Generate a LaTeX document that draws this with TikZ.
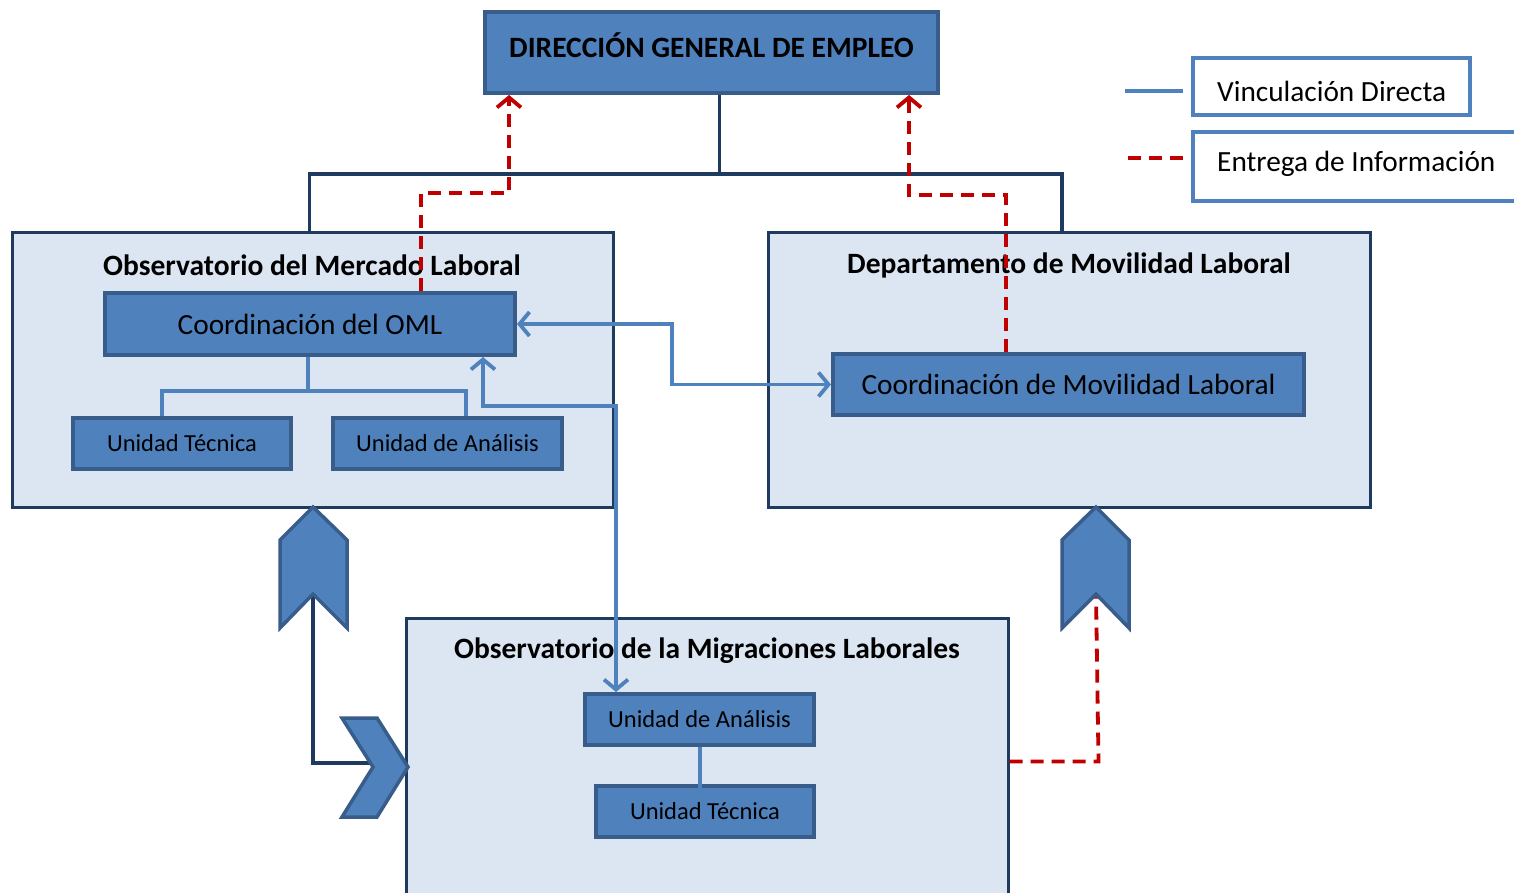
\documentclass[tikz,border=0pt]{standalone}
\usepackage{fontspec}
\setmainfont{Carlito}
\usetikzlibrary{arrows.meta}
\definecolor{medblue}{HTML}{4F81BD}
\definecolor{bordblue}{HTML}{385D8A}
\definecolor{lightfill}{HTML}{DCE6F2}
\definecolor{navy}{HTML}{1F3A5F}
\definecolor{darkred}{HTML}{C00000}
\begin{document}
\begin{tikzpicture}[x=1pt,y=-1pt,
  >={Straight Barb[length=10pt,width=24pt]},
  bigbox/.style={draw=navy,fill=lightfill,line width=3pt,inner sep=0pt},
  unitbox/.style={draw=bordblue,fill=medblue,line width=4pt,inner sep=0pt},
  legbox/.style={draw=medblue,fill=white,line width=3.5pt,inner sep=0pt},
  titletext/.style={font=\fontsize{29.5}{32}\selectfont\bfseries,inner sep=0pt},
  maintext/.style={font=\fontsize{29.3}{32}\selectfont},
  smalltext/.style={font=\fontsize{24.5}{27}\selectfont},
  navyline/.style={draw=navy,line width=3.5pt},
  blueline/.style={draw=medblue,line width=3.8pt},
  redline/.style={draw=darkred,line width=3.8pt,dash pattern=on 13pt off 8pt},
  chev/.style={draw=bordblue,fill=medblue,line width=3.5pt,line join=miter}
]
\useasboundingbox (0,0) rectangle (1514,892);
\fill[white] (0,0) rectangle (1514,892);

% main boxes
\node[bigbox,minimum width=601pt,minimum height=275pt] (oml) at (312.5,369.5) {};
\node[bigbox,minimum width=602pt,minimum height=275pt] (dml) at (1069,369.5) {};
\node[bigbox,minimum width=602pt,minimum height=292pt] (omig) at (707,764) {};
\node[titletext] (omlt) at (312,265) {Observatorio del Mercado Laboral};
\node[titletext] (dmlt) at (1069,265) {Departamento de Movilidad Laboral};
\node[titletext] (omigt) at (707,651) {Observatorio de la Migraciones Laborales};

% top box
\node[unitbox,minimum width=453pt,minimum height=81pt] (dge) at (711.5,52.5) {};
\node[titletext] (dget) at (711.5,45) {DIRECCIÓN GENERAL DE EMPLEO};

% inner boxes
\node[unitbox,maintext,minimum width=410pt,minimum height=62pt] (coml) at (310,324) {\raisebox{-2pt}{Coordinación del OML}};
\node[unitbox,smalltext,minimum width=218pt,minimum height=51pt] (ut1) at (182,443.5) {\raisebox{-2pt}{Unidad Técnica}};
\node[unitbox,smalltext,minimum width=229pt,minimum height=51pt] (ua1) at (447.5,443.5) {\raisebox{-2pt}{Unidad de Análisis}};
\node[unitbox,maintext,minimum width=471pt,minimum height=61pt] (cml) at (1068.5,384.5) {\raisebox{-2pt}{Coordinación de Movilidad Laboral}};
\node[unitbox,smalltext,minimum width=229pt,minimum height=51pt] (ua2) at (699.5,719.5) {\raisebox{-2pt}{Unidad de Análisis}};
\node[unitbox,smalltext,minimum width=218pt,minimum height=51pt] (ut2) at (705,811.5) {\raisebox{-2pt}{Unidad Técnica}};

% hierarchy lines
\draw[navyline] ([xshift=8pt]dge.south) -- ++(0,79) coordinate (hub);
\draw[navyline] ([xshift=-3pt]oml.north) |- (hub) -| ([xshift=-7pt]dml.north);
\draw[blueline] ([xshift=-2pt]coml.south) -- ++(0,34) coordinate (tb);
\draw[blueline] (tb) -| ([xshift=91pt]ut1.north west);
\draw[blueline] (tb) -| ([xshift=135pt]ua1.north west);
\draw[blueline] ([xshift=117pt]ua2.south west) -- ++(0,41);

% blue links
\draw[blueline,<->] (coml.east) -- ++(155,0) |- (cml.west);
\draw[blueline,<->] ([xshift=380pt]coml.south west) -- ++(0,49) -| ([xshift=33pt]ua2.north west);

% red dashed
\draw[redline,->] ([xshift=318pt]coml.north west) -- ++(0,-98) -| ([xshift=26pt]dge.south west);
\draw[redline,->] ([xshift=175pt]cml.north west) -- ++(0,-157) -| ([xshift=426pt]dge.south west);

% chevrons
\coordinate (chevLnotch) at (313,594);
\coordinate (chevMnotch) at (376,763);
\coordinate (chevRnotch) at (1096,594);
\draw[navyline] (chevLnotch) |- (chevMnotch);
\draw[redline] ([yshift=-145pt]omig.north east) -- ++(89,0) -- (chevRnotch);
\draw[chev] (313,507) -- (347,540) -- (347,628) -- (chevLnotch) -- (280,628) -- (280,540) -- cycle;
\draw[chev] (1096,507) -- (1129,540) -- (1129,628) -- (chevRnotch) -- (1062,628) -- (1062,540) -- cycle;
\draw[chev] (342,718) -- (377,718) -- (408,767) -- (377,817) -- (342,817) -- (373,767) -- cycle;

% legend
\node[legbox,minimum width=277pt,minimum height=57pt] (leg1) at (1331.5,86.5) {};
\node[legbox,minimum width=347pt,minimum height=69pt] (leg2) at (1366.5,166.5) {};
\node[maintext,anchor=west,inner sep=0pt] (leg1t) at (1217,91) {Vinculación Directa};
\node[maintext,anchor=west,inner sep=0pt] (leg2t) at (1217,164) {Entrega de Información};
\draw[blueline] ([xshift=-8pt,yshift=-4.5pt]leg1.west) -- ++(-58,0);
\draw[redline] ([xshift=-8pt,yshift=8.5pt]leg2.west) -- ++(-58,0);
\end{tikzpicture}
\end{document}
